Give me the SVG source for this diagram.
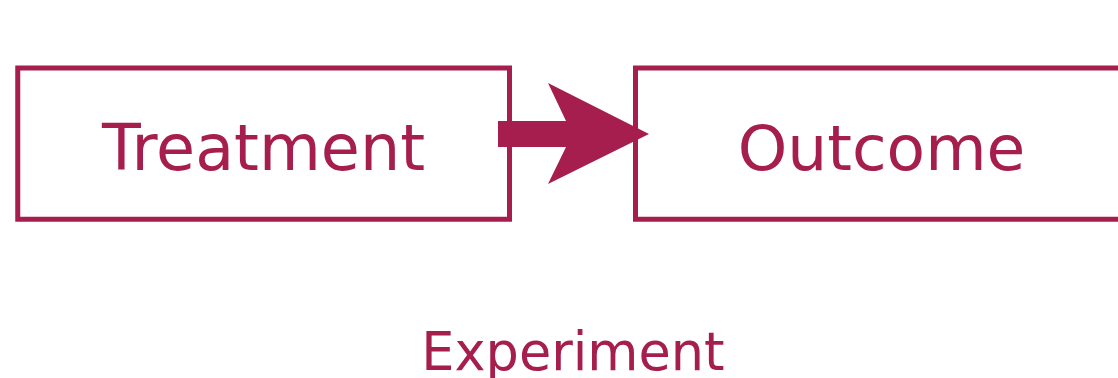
<svg xmlns="http://www.w3.org/2000/svg" width="1118" height="378" viewBox="0 0 1118 378">
<style>
.box{fill:#ffffff;stroke:#A61E4D;stroke-width:5}
.lbl{font-family:"DejaVu Sans",Verdana,sans-serif;fill:#A61E4D;text-anchor:middle}
.arrow{fill:#A61E4D}
</style>
<rect width="1118" height="378" fill="#ffffff"/>
<g id="treatment">
<rect class="box" x="17.75" y="68" width="491.75" height="151.25"/>
<text class="lbl" x="263.5" y="169.5" font-size="63.5">Treatment</text>
</g>
<g id="outcome">
<rect class="box" x="635.5" y="68" width="491.75" height="151.25"/>
<text class="lbl" x="881.5" y="169.5" font-size="63">Outcome</text>
</g>
<g id="connectors">
<path class="arrow" d="M498,121 L566,121 L548,83 L649,134 L548,184 L566,147 L498,147 Z"/>
</g>
<g id="caption">
<text class="lbl" x="573" y="369.5" font-size="52.5">Experiment</text>
</g>
</svg>
